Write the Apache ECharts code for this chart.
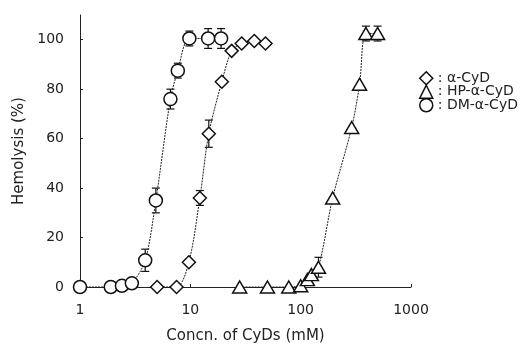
<!DOCTYPE html>
<html><head><meta charset="utf-8">
<script src="https://cdn.jsdelivr.net/npm/echarts@6/dist/echarts.min.js"></script>
<style>html,body{margin:0;padding:0;background:#fff}#c{width:532px;height:349px}</style>
</head><body><div id="c"></div>
<script>
// ---- data ----
const seriesNames = ['α-CyD', 'HP-α-CyD', 'DM-α-CyD'];
const xTickLabels = [1, 10, 100, 1000];
const yTickLabels = [0, 20, 40, 60, 80, 100];

const aX   = [5, 7.5, 9.7, 12.2, 14.7, 19.3, 23.7, 29.2, 38, 48];
const aY   = [0, 0, 10, 36, 62, 83, 95.5, 98.5, 99.5, 98.5];
const aErr = [0, 0, 0, 3, 5.5, 0, 0, 0, 0, 0];

const hpX   = [28, 50, 78, 100, 115, 125, 145, 195, 290, 342, 390, 498];
const hpY   = [0, 0, 0, 0.5, 3, 5, 8, 36, 64.5, 82, 102.5, 102.5];
const hpErr = [0, 0, 0, 0, 0, 0, 4, 0, 0, 0, 3, 3];

const dmX   = [1, 1.9, 2.4, 2.95, 3.9, 4.87, 6.6, 7.7, 9.8, 14.5, 19];
const dmY   = [0, 0, 0.5, 1.5, 10.8, 35, 76, 87.5, 100.5, 100.5, 100.5];
const dmErr = [0, 0, 0, 0, 4.5, 5, 4, 3, 3, 4, 4];

// ---- build ----
const zip = (xs, ys) => xs.map((x, i) => [x, ys[i]]);
const zip3 = (xs, ys, es) => xs.map((x, i) => [x, ys[i], es[i]]).filter(d => d[2] > 0);
const font = 'DejaVu Sans';
const mk = {color: '#fff', borderColor: '#111', borderWidth: 1.5};

function errSeries(data) {
  return {
    type: 'custom', z: 1, silent: true, clip: false, data: data,
    renderItem: function (params, api) {
      const x = api.value(0), y = api.value(1), e = api.value(2);
      const top = api.coord([x, y + e]);
      const bot = api.coord([x, y - e]);
      const w = 4;
      const st = {stroke: '#111', lineWidth: 1.2};
      return {type: 'group', children: [
        {type: 'line', shape: {x1: top[0], y1: top[1], x2: bot[0], y2: bot[1]}, style: st},
        {type: 'line', shape: {x1: top[0] - w, y1: top[1], x2: top[0] + w, y2: top[1]}, style: st},
        {type: 'line', shape: {x1: bot[0] - w, y1: bot[1], x2: bot[0] + w, y2: bot[1]}, style: st}
      ]};
    }
  };
}
function lineSeries(name, data, symbol, size) {
  return {
    name: name, type: 'line', z: 3, clip: false, data: data,
    symbol: symbol, symbolSize: size, smooth: 0.3,
    itemStyle: mk,
    lineStyle: {color: '#222', width: 1, type: [2, 1]}
  };
}

const chart = echarts.init(document.getElementById('c'));
chart.setOption({
  animation: false,
  backgroundColor: '#fff',
  grid: {left: 80, right: 121, top: 15, bottom: 60},
  legend: {
    orient: 'vertical', left: 414, top: 66, itemGap: -1,
    itemWidth: 13, itemHeight: 13,
    data: [
      {name: seriesNames[0], icon: 'diamond'},
      {name: seriesNames[1], icon: 'triangle'},
      {name: seriesNames[2], icon: 'circle'}
    ],
    itemStyle: {color: '#fff', borderColor: '#111', borderWidth: 1.5},
    formatter: n => ': ' + n,
    textStyle: {fontFamily: font, fontSize: 14, color: '#222'}
  },
  xAxis: {
    type: 'log', logBase: 10, min: xTickLabels[0], max: xTickLabels[xTickLabels.length - 1],
    name: 'Concn. of CyDs (mM)', nameLocation: 'middle', nameGap: 42,
    nameTextStyle: {fontFamily: font, fontSize: 15, color: '#222'},
    axisLine: {lineStyle: {color: '#222', width: 1}},
    axisTick: {inside: true, length: 3, lineStyle: {color: '#222'}},
    minorTick: {show: false},
    splitLine: {show: false},
    axisLabel: {fontFamily: font, fontSize: 14, color: '#222', margin: 16, formatter: v => String(v)}
  },
  yAxis: {
    type: 'value', min: 0, max: 110, interval: 20,
    name: 'Hemolysis (%)', nameLocation: 'middle', nameGap: 52,
    nameTextStyle: {fontFamily: font, fontSize: 15, color: '#222'},
    axisLine: {show: true, lineStyle: {color: '#222', width: 1}},
    axisTick: {inside: true, length: 3, lineStyle: {color: '#222'}, customValues: yTickLabels},
    splitLine: {show: false},
    axisLabel: {fontFamily: font, fontSize: 14, color: '#222', margin: 16, customValues: yTickLabels}
  },
  series: [
    errSeries(zip3(aX, aY, aErr)),
    errSeries(zip3(hpX, hpY, hpErr)),
    errSeries(zip3(dmX, dmY, dmErr)),
    lineSeries(seriesNames[0], zip(aX, aY), 'diamond', 13),
    lineSeries(seriesNames[1], zip(hpX, hpY), 'triangle', [14, 12]),
    lineSeries(seriesNames[2], zip(dmX, dmY), 'circle', 13)
  ]
});
</script></body></html>
